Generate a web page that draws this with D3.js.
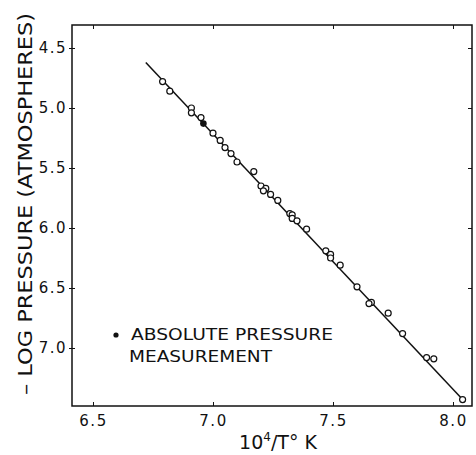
<!DOCTYPE html>
<html>
<head>
<meta charset="utf-8">
<script src="https://cdn.jsdelivr.net/npm/d3@7"></script>
<style>
  body { margin: 0; background: #fff; }
  svg { display: block; }
  text { font-family: "DejaVu Sans", "Liberation Sans", sans-serif; fill: #111; }
</style>
</head>
<body>
<svg width="476" height="455"></svg>
<script>
// open circles: 10^4/T (K) and -log P (atm)
const openX = [6.79, 6.82, 6.91, 6.91, 6.95, 7.00, 7.03, 7.05, 7.075, 7.10, 7.17, 7.20, 7.22, 7.21,
  7.24, 7.27, 7.32, 7.33, 7.33, 7.35, 7.39, 7.47, 7.49, 7.49, 7.53, 7.60, 7.66, 7.65, 7.73, 7.79,
  7.89, 7.92, 8.04];
const openY = [4.78, 4.86, 5.00, 5.04, 5.08, 5.21, 5.27, 5.33, 5.38, 5.45, 5.53, 5.65, 5.67, 5.69,
  5.72, 5.77, 5.88, 5.89, 5.92, 5.94, 6.01, 6.19, 6.22, 6.25, 6.31, 6.49, 6.62, 6.63, 6.71, 6.88,
  7.08, 7.09, 7.43];
// absolute pressure measurement (filled)
const absX = [6.96];
const absY = [5.13];
// fitted line ends
const lineX = [6.72, 8.05];
const lineY = [4.62, 7.45];
const xTicks = [6.5, 7.0, 7.5, 8.0];
const yTicks = [4.5, 5.0, 5.5, 6.0, 6.5, 7.0];

const svg = d3.select("svg");
const L = 72, R = 472, T = 25, B = 406;
const x = d3.scaleLinear().domain([6.4125, 8.0792]).range([L, R]);
const y = d3.scaleLinear().domain([4.3083, 7.4833]).range([T, B]);
const fmt = d3.format(".1f");

// frame
svg.append("rect").attr("x", L).attr("y", T).attr("width", R - L).attr("height", B - T)
  .attr("fill", "none").attr("stroke", "#111").attr("stroke-width", 1.5);

// bottom axis, ticks inward
const gx = svg.append("g").attr("transform", `translate(0,${B})`)
  .call(d3.axisBottom(x).tickValues(xTicks).tickFormat(fmt).tickSizeInner(-4).tickSizeOuter(0).tickPadding(9));
gx.select(".domain").remove();
gx.selectAll("text").attr("font-size", 15).attr("letter-spacing", 1.5).attr("fill", "#111")
  .attr("font-family", "DejaVu Sans");
gx.selectAll("line").attr("stroke", "#111");

// top ticks
svg.append("g").attr("transform", `translate(0,${T})`)
  .call(d3.axisTop(x).tickValues(xTicks).tickFormat("").tickSizeInner(-4).tickSizeOuter(0))
  .call(g => g.select(".domain").remove())
  .selectAll("line").attr("stroke", "#111");

// left axis
const gy = svg.append("g").attr("transform", `translate(${L},0)`)
  .call(d3.axisLeft(y).tickValues(yTicks).tickFormat(fmt).tickSizeInner(3).tickSizeOuter(0).tickPadding(2));
gy.select(".domain").remove();
gy.selectAll("text").attr("font-size", 15).attr("letter-spacing", 1.5).attr("fill", "#111")
  .attr("font-family", "DejaVu Sans");
gy.selectAll("line").attr("stroke", "#111").attr("x2", 3).attr("x1", -3);

// right ticks
svg.append("g").attr("transform", `translate(${R},0)`)
  .call(d3.axisRight(y).tickValues(yTicks).tickFormat("").tickSizeInner(-4).tickSizeOuter(0))
  .call(g => g.select(".domain").remove())
  .selectAll("line").attr("stroke", "#111");

// fitted line
svg.append("line")
  .attr("x1", x(lineX[0])).attr("y1", y(lineY[0]))
  .attr("x2", x(lineX[1])).attr("y2", y(lineY[1]))
  .attr("stroke", "#111").attr("stroke-width", 1.5);

// data points
const pts = openX.map((v, i) => ({x: v, y: openY[i]}));
svg.append("g").selectAll("circle").data(pts).enter().append("circle")
  .attr("cx", d => x(d.x)).attr("cy", d => y(d.y)).attr("r", 3)
  .attr("fill", "#fff").attr("stroke", "#111").attr("stroke-width", 1.2);
svg.append("g").selectAll("circle").data(absX.map((v, i) => ({x: v, y: absY[i]}))).enter().append("circle")
  .attr("cx", d => x(d.x)).attr("cy", d => y(d.y)).attr("r", 3.3).attr("fill", "#111");

// legend
svg.append("circle").attr("cx", 116).attr("cy", 335).attr("r", 2.6).attr("fill", "#111");
svg.append("text").attr("x", 131).attr("y", 340).attr("font-size", 16)
  .attr("textLength", 202).attr("lengthAdjust", "spacingAndGlyphs").text("ABSOLUTE PRESSURE");
svg.append("text").attr("x", 129).attr("y", 362).attr("font-size", 16)
  .attr("textLength", 143).attr("lengthAdjust", "spacingAndGlyphs").text("MEASUREMENT");

// x title
const xt = svg.append("text").attr("x", 278).attr("y", 449).attr("text-anchor", "middle").attr("font-size", 19);
xt.append("tspan").text("10");
xt.append("tspan").attr("font-size", 12).attr("dy", -8).text("4");
xt.append("tspan").attr("dy", 8).text("/T° K");

// y title
svg.append("text").attr("transform", "translate(32,395) rotate(-90)")
  .attr("font-size", 20).attr("textLength", 382).attr("lengthAdjust", "spacingAndGlyphs")
  .text("– LOG PRESSURE (ATMOSPHERES)");
</script>
</body>
</html>
